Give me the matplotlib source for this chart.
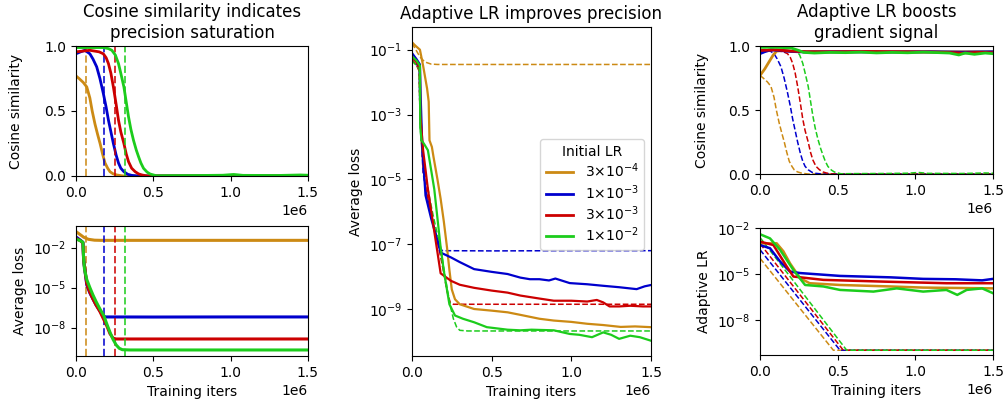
import numpy as np
import matplotlib
matplotlib.use("Agg")
import matplotlib.pyplot as plt
from matplotlib.ticker import NullLocator

# colours for the four initial learning rates
lr_labels = [r"$3{\times}10^{-4}$", r"$1{\times}10^{-3}$", r"$3{\times}10^{-3}$", r"$1{\times}10^{-2}$"]
colors = ["#cc8a14", "#0000cd", "#cc0000", "#1ccc1c"]

# iteration where constant-LR loss saturates (millions)
sat_iters = [0.067, 0.18, 0.25, 0.32]

# ---- constant LR: cosine similarity (x in millions of iters)
cos_const_x = [
    [0, 0.02, 0.047, 0.07, 0.09, 0.105, 0.123, 0.14, 0.156, 0.172, 0.188, 0.205, 0.22, 0.24, 0.264, 0.29, 0.31,
     0.5, 1.0, 1.5],
    [0, 0.03, 0.058, 0.09, 0.11, 0.134, 0.155, 0.177, 0.195, 0.21, 0.226, 0.242, 0.26, 0.275, 0.29, 0.31, 0.335,
     0.36, 0.4, 1.0, 1.5],
    [0, 0.09, 0.15, 0.177, 0.195, 0.21, 0.226, 0.242, 0.26, 0.275, 0.29, 0.31, 0.325, 0.34, 0.36, 0.383, 0.405,
     0.427, 0.46, 1.0, 1.5],
    [0, 0.177, 0.21, 0.232, 0.255, 0.275, 0.29, 0.31, 0.325, 0.34, 0.355, 0.372, 0.39, 0.405, 0.42, 0.437, 0.46,
     0.48, 0.52, 0.6, 0.8, 0.95, 1.02, 1.08, 1.3, 1.45, 1.5],
]
cos_const_y = [
    [0.77, 0.75, 0.72, 0.685, 0.60, 0.5, 0.40, 0.32, 0.25, 0.17, 0.10, 0.06, 0.033, 0.017, 0.008, 0.003, 0.0,
     0.0, 0.0, 0.0],
    [0.94, 0.955, 0.967, 0.94, 0.9, 0.84, 0.75, 0.635, 0.53, 0.43, 0.34, 0.25, 0.16, 0.10, 0.06, 0.033, 0.013,
     0.005, 0.0, 0.0, 0.0],
    [0.955, 0.967, 0.955, 0.94, 0.91, 0.865, 0.79, 0.685, 0.55, 0.43, 0.34, 0.25, 0.17, 0.11, 0.06, 0.033, 0.016,
     0.008, 0.0, 0.0, 0.0],
    [0.988, 0.988, 0.98, 0.967, 0.93, 0.865, 0.79, 0.685, 0.57, 0.455, 0.36, 0.275, 0.2, 0.148, 0.1, 0.059, 0.03,
     0.015, 0.002, 0.003, 0.004, 0.006, 0.012, 0.005, 0.004, 0.008, 0.006],
]

# ---- constant LR: average loss
loss_const_x = [
    [0, 0.03, 0.05, 0.08, 0.12, 0.16, 0.5, 1.0, 1.5],
    [0, 0.03, 0.045, 0.05, 0.07, 0.09, 0.11, 0.13, 0.155, 0.175, 0.19, 0.5, 1.0, 1.5],
    [0, 0.03, 0.045, 0.05, 0.07, 0.09, 0.11, 0.13, 0.155, 0.18, 0.2, 0.22, 0.24, 0.26, 0.5, 1.0, 1.5],
    [0, 0.03, 0.045, 0.05, 0.055, 0.07, 0.09, 0.11, 0.13, 0.155, 0.18, 0.2, 0.22, 0.24, 0.26, 0.28, 0.3, 0.35, 1.0, 1.5],
]
loss_const_y = [
    [1.6e-1, 8.9e-2, 6.0e-2, 4.2e-2, 3.6e-2, 3.5e-2, 3.5e-2, 3.5e-2, 3.5e-2],
    [6.3e-2, 3.5e-2, 2.5e-2, 1.0e-3, 1.6e-5, 4.0e-6, 1.4e-6, 5.0e-7, 1.8e-7, 8.0e-8, 6.3e-8, 6.2e-8, 6.3e-8, 6.3e-8],
    [5.0e-2, 3.2e-2, 2.2e-2, 1.0e-3, 2.0e-5, 4.5e-6, 1.4e-6, 5.0e-7, 1.6e-7, 4.0e-8, 1.3e-8, 3.5e-9, 1.6e-9,
     1.4e-9, 1.4e-9, 1.4e-9, 1.4e-9],
    [4.5e-2, 3.2e-2, 2.5e-2, 1.3e-3, 2.5e-4, 4.0e-5, 1.0e-5, 2.8e-6, 9.0e-7, 2.5e-7, 8.0e-8, 1.8e-8, 4.5e-9,
     1.3e-9, 5.0e-10, 2.8e-10, 2.2e-10, 2.1e-10, 2.1e-10, 2.1e-10],
]

# ---- adaptive LR: average loss
loss_adapt_x = [
    [0, 0.02, 0.05, 0.07, 0.095, 0.105, 0.11, 0.125, 0.135, 0.16, 0.18, 0.2, 0.22, 0.235, 0.25, 0.27, 0.3, 0.39,
     0.5, 0.6, 0.68, 0.8, 0.89, 1.0, 1.1, 1.2, 1.31, 1.4, 1.5],
    [0, 0.03, 0.05, 0.055, 0.065, 0.085, 0.12, 0.16, 0.18, 0.245, 0.3, 0.39, 0.5, 0.6, 0.68, 0.74, 0.8, 0.86, 0.9,
     0.99, 1.1, 1.2, 1.3, 1.41, 1.46, 1.5],
    [0, 0.03, 0.05, 0.052, 0.07, 0.085, 0.1, 0.14, 0.18, 0.245, 0.3, 0.39, 0.5, 0.6, 0.68, 0.8, 0.89, 1.0, 1.1,
     1.16, 1.2, 1.24, 1.3, 1.37, 1.45, 1.5],
    [0, 0.03, 0.05, 0.052, 0.06, 0.075, 0.1, 0.12, 0.14, 0.16, 0.18, 0.2, 0.235, 0.27, 0.32, 0.39, 0.47, 0.6, 0.68,
     0.75, 0.89, 0.99, 1.05, 1.13, 1.2, 1.25, 1.3, 1.37, 1.43, 1.5],
]
loss_adapt_y = [
    [1.7e-1, 1.35e-1, 1.0e-1, 3.2e-2, 6.3e-3, 2.5e-3, 1.6e-4, 1.0e-4, 5.0e-5, 1.0e-5, 2.5e-6, 5.0e-7, 7.9e-8,
     1.6e-8, 4.0e-9, 2.0e-9, 1.4e-9, 1.0e-9, 8.9e-10, 7.9e-10, 6.6e-10, 5.0e-10, 4.4e-10, 4.0e-10, 3.5e-10,
     3.2e-10, 2.8e-10, 2.9e-10, 2.75e-10],
    [7.9e-2, 5.0e-2, 3.5e-2, 3.2e-3, 1.0e-4, 3.2e-6, 6.3e-7, 1.26e-7, 5.5e-8, 3.9e-8, 2.8e-8, 1.7e-8, 1.4e-8,
     1.2e-8, 9.3e-9, 8.3e-9, 8.3e-9, 7.6e-9, 8.7e-9, 6.3e-9, 5.8e-9, 5.2e-9, 4.7e-9, 4.1e-9, 5.0e-9, 5.5e-9],
    [6.3e-2, 4.0e-2, 2.8e-2, 1.0e-3, 7.9e-5, 2.0e-5, 5.0e-6, 2.5e-7, 1.26e-8, 7.4e-9, 5.6e-9, 4.5e-9, 3.7e-9,
     3.2e-9, 2.6e-9, 2.1e-9, 1.8e-9, 1.8e-9, 1.7e-9, 1.9e-9, 1.6e-9, 1.2e-9, 1.2e-9, 1.26e-9, 1.2e-9, 1.2e-9],
    [6.3e-2, 4.5e-2, 3.2e-2, 4.0e-4, 1.6e-4, 1.26e-4, 7.9e-5, 2.0e-5, 5.0e-6, 6.3e-7, 7.9e-8, 1.5e-8, 1.4e-9,
     6.3e-10, 5.0e-10, 3.9e-10, 2.75e-10, 2.3e-10, 2.2e-10, 2.3e-10, 2.2e-10, 1.7e-10, 1.6e-10, 1.35e-10,
     1.9e-10, 1.6e-10, 1.2e-10, 1.5e-10, 1.35e-10, 1.05e-10],
]

# ---- adaptive LR: cosine similarity
cos_adapt_x = [
    [0, 0.03, 0.06, 0.085, 0.107, 0.15, 0.2, 0.3, 0.5, 0.7, 0.9, 1.1, 1.3, 1.5],
    [0, 0.03, 0.07, 0.12, 0.2, 0.3, 0.5, 0.8, 1.1, 1.3, 1.5],
    [0, 0.1, 0.2, 0.3, 0.5, 0.7, 0.9, 1.1, 1.25, 1.3, 1.4, 1.5],
    [0, 0.1, 0.2, 0.25, 0.28, 0.35, 0.45, 0.55, 0.65, 0.75, 0.85, 0.95, 1.05, 1.15, 1.22, 1.28, 1.32, 1.38, 1.45, 1.5],
]
cos_adapt_y = [
    [0.77, 0.82, 0.88, 0.93, 0.96, 0.965, 0.96, 0.955, 0.955, 0.955, 0.955, 0.955, 0.955, 0.955],
    [0.94, 0.955, 0.97, 0.965, 0.957, 0.953, 0.955, 0.953, 0.955, 0.952, 0.955],
    [0.965, 0.97, 0.96, 0.955, 0.955, 0.957, 0.955, 0.953, 0.948, 0.945, 0.95, 0.948],
    [0.99, 0.99, 0.985, 0.965, 0.95, 0.945, 0.95, 0.948, 0.952, 0.946, 0.95, 0.947, 0.952, 0.948, 0.945, 0.93,
     0.945, 0.935, 0.945, 0.94],
]

# ---- learning rate: adaptive (solid) and constant-run effective LR (dashed)
lr_adapt_x = [
    [0, 0.107, 0.15, 0.193, 0.258, 0.32, 0.515, 0.84, 1.05, 1.5],
    [0, 0.064, 0.129, 0.193, 0.258, 0.515, 0.84, 1.05, 1.26, 1.43, 1.5],
    [0, 0.086, 0.172, 0.215, 0.408, 0.8, 1.2, 1.5],
    [0, 0.064, 0.129, 0.215, 0.29, 0.408, 0.515, 0.73, 0.88, 1.05, 1.2, 1.27, 1.33, 1.43, 1.5],
]
lr_adapt_y = [
    [1.05e-3, 1.05e-3, 3.2e-4, 5.2e-5, 5.5e-6, 2.6e-6, 2.0e-6, 1.6e-6, 1.35e-6, 1.2e-6],
    [8.1e-4, 5.0e-4, 6.8e-5, 1.5e-5, 1.2e-5, 7.8e-6, 6.3e-6, 5.0e-6, 4.7e-6, 4.0e-6, 5.0e-6],
    [1.35e-3, 8.1e-4, 3.2e-5, 7.1e-6, 4.3e-6, 3.3e-6, 2.6e-6, 2.6e-6],
    [4.1e-3, 2.2e-3, 3.9e-4, 1.9e-5, 2.0e-6, 1.6e-6, 9.5e-7, 7.4e-7, 1.2e-6, 7.4e-7, 9.5e-7, 4.5e-7, 9.5e-7,
     1.2e-6, 5.8e-7],
]
lr_const_x = [
    [0, 0.472, 1.5],
    [0, 0.515, 1.5],
    [0, 0.536, 1.5],
    [0, 0.558, 1.5],
]
lr_const_y = [
    [1.1e-4, 1.1e-10, 1.1e-10],
    [4.0e-4, 1.1e-10, 1.1e-10],
    [1.0e-3, 1.1e-10, 1.1e-10],
    [2.5e-3, 1.1e-10, 1.1e-10],
]

M = 1e6

fig = plt.figure(figsize=(10.06, 4.0), dpi=100)
ax_ct = fig.add_axes([0.0755, 0.56, 0.2306, 0.325])
ax_cb = fig.add_axes([0.0755, 0.11, 0.2306, 0.325])
ax_m = fig.add_axes([0.4095, 0.11, 0.2376, 0.8225])
ax_rt = fig.add_axes([0.7555, 0.565, 0.2316, 0.32])
ax_rb = fig.add_axes([0.7555, 0.1125, 0.2316, 0.3175])

# left column: constant LR
for i in range(4):
    ax_ct.plot(np.array(cos_const_x[i]) * M, cos_const_y[i], color=colors[i], lw=2)
    ax_cb.plot(np.array(loss_const_x[i]) * M, loss_const_y[i], color=colors[i], lw=2.2)
    for a in (ax_ct, ax_cb):
        a.axvline(sat_iters[i] * M, color=colors[i], ls="--", lw=1.4, alpha=0.8)

ax_ct.set_title("Cosine similarity indicates\nprecision saturation", fontsize=12)
ax_ct.set_ylabel("Cosine similarity", labelpad=15)
ax_ct.set_ylim(0, 1.0)
ax_ct.set_yticks([0.0, 0.5, 1.0])

ax_cb.set_yscale("log")
ax_cb.set_ylim(10 ** -10.13, 10 ** -0.38)
ax_cb.set_yticks([1e-2, 1e-5, 1e-8])
ax_cb.set_ylabel("Average loss")
ax_cb.set_xlabel("Training iters")

# middle: loss, adaptive vs constant
for i in range(4):
    ax_m.plot(np.array(loss_const_x[i]) * M, loss_const_y[i], color=colors[i], ls="--", lw=1.1)
for i in range(4):
    ax_m.plot(np.array(loss_adapt_x[i]) * M, loss_adapt_y[i], color=colors[i], lw=1.6, label=lr_labels[i])
ax_m.set_yscale("log")
ax_m.set_ylim(10 ** -10.45, 10 ** -0.3)
ax_m.set_yticks([1e-1, 1e-3, 1e-5, 1e-7, 1e-9])
ax_m.set_title("Adaptive LR improves precision", fontsize=12)
ax_m.set_ylabel("Average loss")
ax_m.set_xlabel("Training iters")
leg = ax_m.legend(title="Initial LR", loc="upper right", bbox_to_anchor=(1.0, 0.68), labelspacing=0.2)
for h in leg.get_lines():
    h.set_linewidth(2)

# right column: adaptive LR
for i in range(4):
    ax_rt.plot(np.array(cos_const_x[i]) * M, cos_const_y[i], color=colors[i], ls="--", lw=1.1)
for i in range(4):
    ax_rt.plot(np.array(cos_adapt_x[i]) * M, cos_adapt_y[i], color=colors[i], lw=2)
ax_rt.set_title("Adaptive LR boosts\ngradient signal", fontsize=12)
ax_rt.set_ylabel("Cosine similarity", labelpad=14)
ax_rt.set_ylim(0, 1.0)
ax_rt.set_yticks([0.0, 0.5, 1.0])

for i in range(4):
    ax_rb.plot(np.array(lr_const_x[i]) * M, lr_const_y[i], color=colors[i], ls="--", lw=1.1)
for i in range(4):
    ax_rb.plot(np.array(lr_adapt_x[i]) * M, lr_adapt_y[i], color=colors[i], lw=1.8)
ax_rb.set_yscale("log")
ax_rb.set_ylim(10 ** -10.27, 10 ** -1.98)
ax_rb.set_yticks([1e-2, 1e-5, 1e-8])
ax_rb.set_ylabel("Adaptive LR")
ax_rb.set_xlabel("Training iters")

for a in (ax_ct, ax_cb, ax_m, ax_rt, ax_rb):
    a.set_xlim(0, 1.5 * M)
    a.set_xticks([0, 0.5 * M, 1.0 * M, 1.5 * M])
    a.yaxis.set_minor_locator(NullLocator())

fig.savefig("out.png", dpi=100)
